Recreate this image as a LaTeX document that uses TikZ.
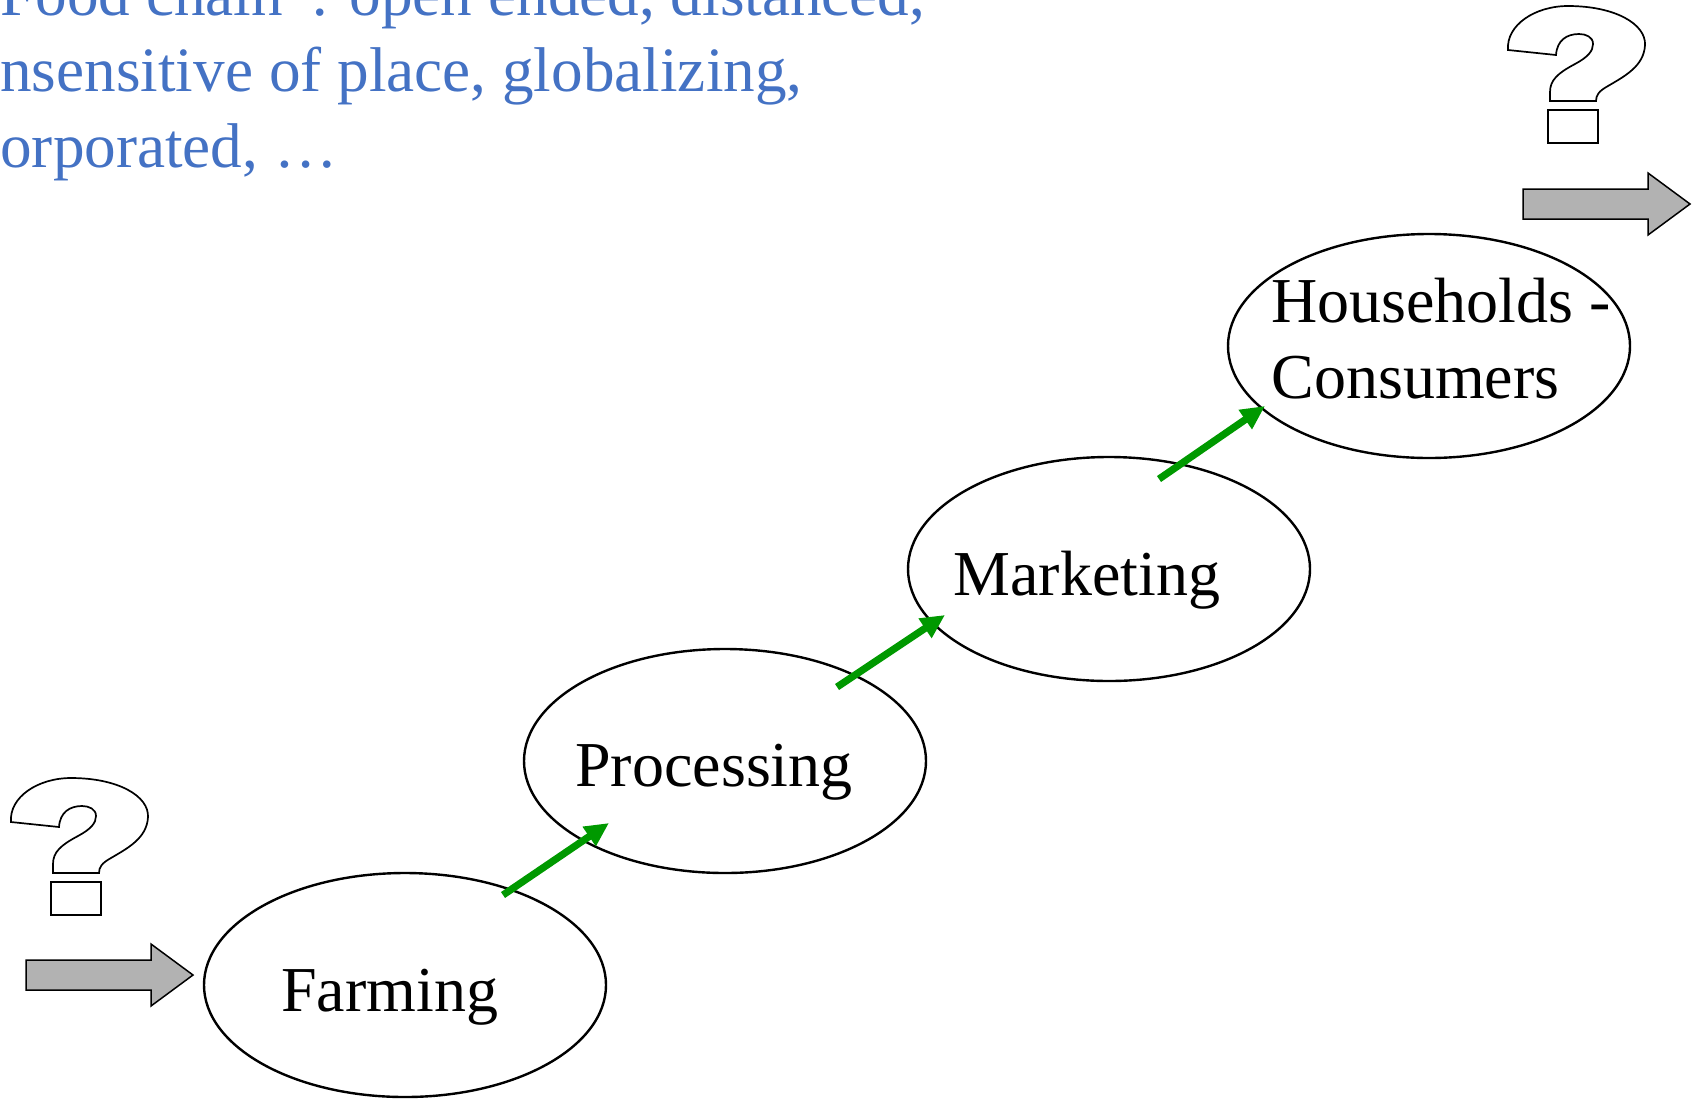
\documentclass[tikz,border=0pt]{standalone}
\usepackage{fontspec}
\setmainfont{Liberation Serif}
\usetikzlibrary{arrows.meta,shapes.geometric}

\definecolor{chainblue}{RGB}{68,114,196}
\definecolor{flowgreen}{RGB}{0,153,0}
\definecolor{blockgray}{RGB}{178,178,178}

\tikzset{
  stage/.style={draw, line width=1.2pt, ellipse, minimum width=201pt, minimum height=112pt, inner sep=0pt},
  word/.style={font=\fontsize{32}{38}\selectfont, inner sep=0pt, anchor=base west, align=left},
  flow/.style={draw=flowgreen, line width=3.6pt, -{Triangle[length=12pt,width=11pt]}},
  block/.style={draw, line width=0.75pt, fill=blockgray},
  query/.style={draw, line width=0.85pt},
}

\begin{document}
\begin{tikzpicture}[x=0.5pt, y=-0.5pt]
\useasboundingbox (0,0) rectangle (1700,1098);
\clip (0,0) rectangle (1700,1098);

% caption, running off the page edge (base = last line)
\node[word, text=chainblue, font=\fontsize{31.6}{38}\selectfont] (caption) at (0,167)
  {Food chain”: open ended, distanced,\\nsensitive of place, globalizing,\\orporated, …};

% the four stages
\node[stage] (farm) at (405,985) {};
\node[stage] (proc) at (725,761) {};
\node[stage] (mark) at (1109,569) {};
\node[stage] (house) at (1429,346) {};

\node[word] (farmtext) at (281,1011) {Farming};
\node[word] (proctext) at (575,786) {Processing};
\node[word] (marktext) at (953,595) {Marketing};
\node[word] (housetext) at (1271,398) {Households -\\Consumers};

% green steps between stages
\draw[flow] ([shift={(98,-90)}]farm.center) -- ([shift={(-116,62)}]proc.center);
\draw[flow] ([shift={(112,-74)}]proc.center) -- ([shift={(-164,46)}]mark.center);
\draw[flow] ([shift={(50,-90)}]mark.center) -- ([shift={(-164,60)}]house.center);

% grey arrows in and out
\foreach \x/\y in {26/975, 1523/204}
  \draw[block] (\x,\y-15) -- ++(125,0) -- ++(0,-16) -- ++(42,31) -- ++(-42,31)
    -- ++(0,-16) -- ++(-125,0) -- cycle;

% question marks
\foreach \x/\y in {3/772, 1500/0} {
  \begin{scope}[shift={(\x,\y)}]
    \draw[query] (8,50) .. controls (6,25) and (35,6) .. (68,6)
      .. controls (115,6) and (146,24) .. (145,45)
      .. controls (144,66) and (125,76) .. (108,86)
      .. controls (99,91) and (96,95) .. (96,101) -- (50,101) -- (50,92)
      .. controls (50,80) and (58,73) .. (75,64)
      .. controls (88,57) and (93,51) .. (93,44)
      .. controls (93,37) and (86,34) .. (79,34)
      .. controls (67,34) and (57,40) .. (56,55) -- cycle;
    \draw[query] (48,110) rectangle (98,143);
  \end{scope}
}
\end{tikzpicture}
\end{document}
